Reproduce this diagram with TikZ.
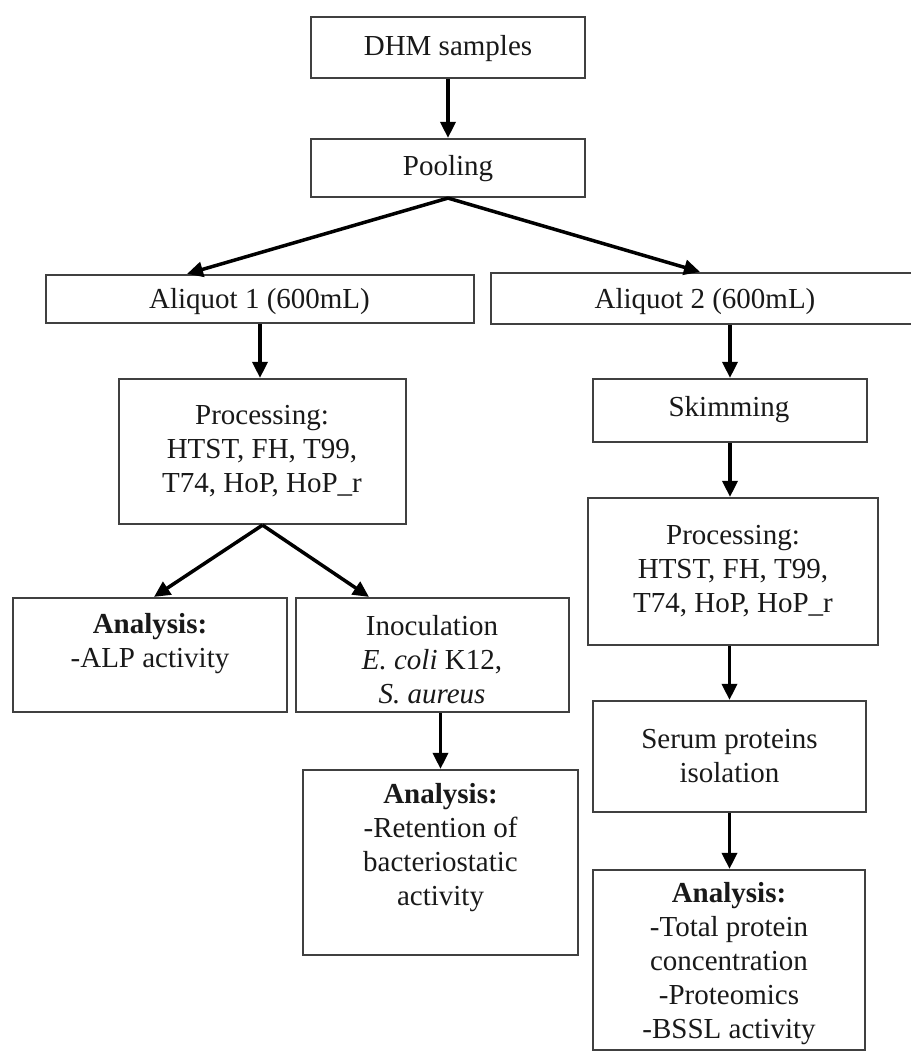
\documentclass[tikz,border=0pt]{standalone}
\usepackage{fontspec}
\setmainfont{Liberation Serif}
\usetikzlibrary{arrows.meta}
\tikzset{
  boxnode/.style={draw=black!75, line width=2.2pt, rectangle, inner sep=0pt},
  txtnode/.style={align=center, inner sep=0pt, text=black!90, font=\fontsize{29}{34}\selectfont},
  flowarrow/.style={draw=black, line width=3.5pt, -{Triangle[length=16pt,width=15pt]}}
}
\begin{document}
\begin{tikzpicture}[x=1pt,y=-1pt]
\useasboundingbox (0,0) rectangle (910,1057);
\fill[white] (0,0) rectangle (910,1057);
% boxes
\node[boxnode, minimum width=274pt, minimum height=61pt] (dhm) at (448,47.5) {};
\node[boxnode, minimum width=274pt, minimum height=58pt] (pool) at (448,168) {};
\node[boxnode, minimum width=428pt, minimum height=48pt] (a1) at (260,299) {};
\node[boxnode, minimum width=429pt, minimum height=51pt] (a2) at (705.5,298.5) {};
\node[boxnode, minimum width=287pt, minimum height=145pt] (p1) at (262.5,451.5) {};
\node[boxnode, minimum width=274pt, minimum height=114pt] (alp) at (150,655) {};
\node[boxnode, minimum width=273pt, minimum height=114pt] (inoc) at (432.5,655) {};
\node[boxnode, minimum width=275pt, minimum height=185pt] (ret) at (440.5,862.5) {};
\node[boxnode, minimum width=274pt, minimum height=63pt] (skim) at (730,410.5) {};
\node[boxnode, minimum width=290pt, minimum height=147pt] (p2) at (733,571.5) {};
\node[boxnode, minimum width=273pt, minimum height=111pt] (serum) at (729.5,756.5) {};
\node[boxnode, minimum width=272pt, minimum height=180pt] (an2) at (729,960) {};
% texts
\node[txtnode] (dhmT) at (448,48.5) {DHM samples};
\node[txtnode] (poolT) at (448,169) {Pooling};
\node[txtnode] (a1T) at (259.5,302) {Aliquot 1 (600mL)};
\node[txtnode] (a2T) at (705,302) {Aliquot 2 (600mL)};
\node[txtnode] (p1T) at (262,451) {Processing:\\HTST, FH, T99,\\T74, HoP, HoP\_r};
\node[txtnode] (alpT) at (150,643.5) {\textbf{Analysis:}\\-ALP activity};
\node[txtnode] (inocT) at (432,660) {Inoculation\\\textit{E. coli} K12,\\\textit{S. aureus}};
\node[txtnode] (retT) at (440.5,848) {\textbf{Analysis:}\\-Retention of\\bacteriostatic\\activity};
\node[txtnode] (skimT) at (729,410) {Skimming};
\node[txtnode] (p2T) at (733,571) {Processing:\\HTST, FH, T99,\\T74, HoP, HoP\_r};
\node[txtnode] (serumT) at (729.5,756.5) {Serum proteins\\isolation};
\node[txtnode] (an2T) at (729,963.5) {\textbf{Analysis:}\\-Total protein\\concentration\\-Proteomics\\-BSSL activity};
% arrows
\draw[flowarrow] (dhm.south) -- (pool.north);
\draw[flowarrow] (pool.south) -- ([xshift=-73pt]a1.north);
\draw[flowarrow] (pool.south) -- ([xshift=-5.5pt]a2.north);
\draw[flowarrow] (a1.south) -- (a1.south |- p1.north);
\draw[flowarrow] (skim.north |- a2.south) -- (skim.north);
\draw[flowarrow] (p1.south) -- ([xshift=4pt]alp.north);
\draw[flowarrow] (p1.south) -- ([xshift=-63.5pt]inoc.north);
\draw[flowarrow] (ret.north |- inoc.south) -- (ret.north);
\draw[flowarrow] (skim.south) -- (skim.south |- p2.north);
\draw[flowarrow] (serum.north |- p2.south) -- (serum.north);
\draw[flowarrow] (serum.south) -- (serum.south |- an2.north);
\end{tikzpicture}
\end{document}
